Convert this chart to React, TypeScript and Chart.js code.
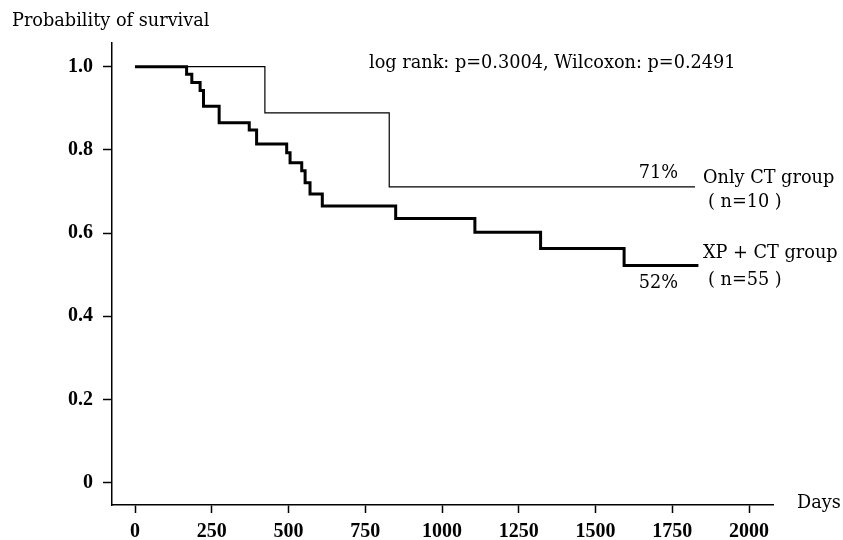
import React, { useEffect, useRef } from "react";
import { Chart, registerables } from "chart.js";

Chart.register(...registerables);

const onlyCtDays = [0, 423, 828, 1824];
const onlyCtSurv = [1.0, 0.889, 0.711, 0.711];

const xpCtDays = [0, 168, 185, 212, 223, 274, 372, 396, 494, 505, 543, 554, 570, 610, 849, 1107, 1321, 1593, 1835];
const xpCtSurv = [1.0, 0.982, 0.962, 0.943, 0.905, 0.865, 0.848, 0.814, 0.793, 0.769, 0.75, 0.721, 0.694, 0.665, 0.635, 0.602, 0.563, 0.522, 0.522];

const xTicks = [0, 250, 500, 750, 1000, 1250, 1500, 1750, 2000];
const yTicks = [0, 0.2, 0.4, 0.6, 0.8, 1.0];

const yTitle = "Probability of survival";
const xTitle = "Days";
const statText = "log rank: p=0.3004, Wilcoxon: p=0.2491";
const onlyCtLabel = ["Only CT group", "( n=10 )"];
const xpCtLabel = ["XP + CT group", "( n=55 )"];
const onlyCtPct = "71%";
const xpCtPct = "52%";

const TEXT_FONT = "17.7px 'DejaVu Serif'";

const textPlugin = {
  id: "kmText",
  afterDraw(chart: any) {
    const ctx = chart.ctx;
    ctx.save();
    ctx.fillStyle = "#000";
    ctx.font = TEXT_FONT;
    ctx.textBaseline = "alphabetic";
    ctx.textAlign = "left";
    ctx.fillText(yTitle, 12, 26);
    ctx.fillText(statText, 369, 68);
    ctx.fillText(onlyCtLabel[0], 703, 183);
    ctx.fillText(onlyCtLabel[1], 708, 207);
    ctx.fillText(xpCtLabel[0], 703, 258);
    ctx.fillText(xpCtLabel[1], 708, 285);
    ctx.fillText(xTitle, 797, 508);
    ctx.textAlign = "right";
    ctx.fillText(onlyCtPct, 678, 178);
    ctx.fillText(xpCtPct, 678, 288);
    ctx.restore();
  },
};

export default function App() {
  const ref = useRef<HTMLCanvasElement | null>(null);

  useEffect(() => {
    const canvas = ref.current;
    if (!canvas) return;
    const tickFont = { family: "'Liberation Serif'", size: 20, weight: "bold" as const };
    const chart = new Chart(canvas, {
      type: "line",
      data: {
        datasets: [
          {
            label: "Only CT group",
            data: onlyCtDays.map((d, i) => ({ x: d, y: onlyCtSurv[i] })),
            borderColor: "#000",
            borderWidth: 1.2,
            stepped: true,
            pointRadius: 0,
            fill: false,
          },
          {
            label: "XP + CT group",
            data: xpCtDays.map((d, i) => ({ x: d, y: xpCtSurv[i] })),
            borderColor: "#000",
            borderWidth: 3,
            stepped: true,
            pointRadius: 0,
            fill: false,
          },
        ],
      },
      options: {
        animation: false,
        responsive: false,
        maintainAspectRatio: false,
        devicePixelRatio: 1,
        layout: { padding: { left: 0, top: 43, right: 70, bottom: 0 } },
        plugins: {
          legend: { display: false },
          tooltip: { enabled: false },
          title: { display: false },
        },
        scales: {
          x: {
            type: "linear",
            min: -75,
            max: 2078,
            afterBuildTicks: (s: any) => {
              s.ticks = xTicks.map((v) => ({ value: v }));
            },
            afterFit: (s: any) => {
              s.height = 35;
            },
            ticks: {
              color: "#000",
              font: tickFont,
              padding: 7,
              maxRotation: 0,
              autoSkip: false,
              callback: (v: any) => String(v),
            },
            grid: {
              drawOnChartArea: false,
              drawTicks: true,
              tickLength: 8,
              tickColor: "#000",
              tickWidth: 1.5,
            },
            border: { display: true, color: "#000", width: 1.5 },
          },
          y: {
            type: "linear",
            min: -0.054,
            max: 1.057,
            afterBuildTicks: (s: any) => {
              s.ticks = yTicks.map((v) => ({ value: v }));
            },
            afterFit: (s: any) => {
              s.width = 112;
            },
            ticks: {
              color: "#000",
              font: tickFont,
              padding: 10,
              autoSkip: false,
              callback: (v: any) => (v === 0 ? "0" : Number(v).toFixed(1)),
            },
            grid: {
              drawOnChartArea: false,
              drawTicks: true,
              tickLength: 9,
              tickColor: "#000",
              tickWidth: 1.5,
            },
            border: { display: true, color: "#000", width: 1.5 },
          },
        },
      },
      plugins: [textPlugin],
    });
    return () => chart.destroy();
  }, []);

  return (
    <div style={{ position: "fixed", left: 0, top: 0, width: 843, height: 540, background: "#fff" }}>
      <canvas ref={ref} width={843} height={540} style={{ display: "block", width: 843, height: 540 }} />
    </div>
  );
}
